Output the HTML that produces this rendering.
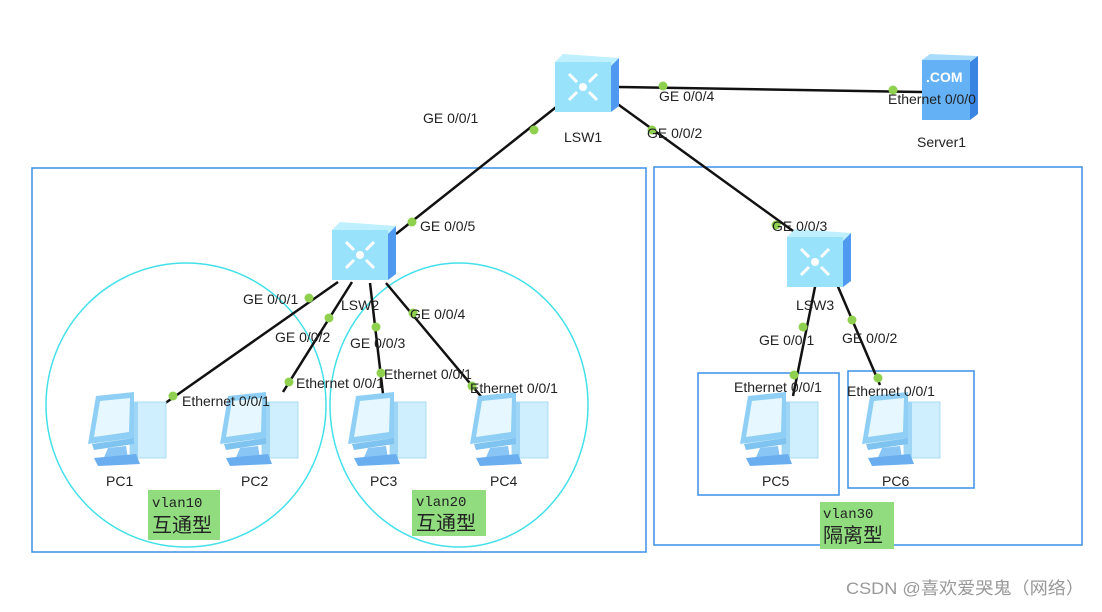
<!DOCTYPE html>
<html><head><meta charset="utf-8"><style>
html,body{margin:0;padding:0;background:#fff;}
svg text{font-family:"Liberation Sans","Noto Sans CJK SC",sans-serif;font-size:14px;fill:#222;}
.m{font-family:"Liberation Mono","Noto Sans CJK SC",monospace;}
</style></head><body>
<svg width="1102" height="607" viewBox="0 0 1102 607" xmlns="http://www.w3.org/2000/svg">
<defs>
<g id="pc">
 <rect x="42" y="10" width="36" height="56" fill="#cfeefe" stroke="#a8dcf7"/>
 <rect x="42" y="10" width="8" height="56" fill="#9fd6f6"/>
 <polygon points="8,4 46,0 46,46 0,52" fill="#8fcff5"/>
 <polygon points="12,9 42,6 41,40 6,45" fill="#e6f7ff"/>
 <polygon points="4,52 46,46 46,52 6,58" fill="#7fc3f0"/>
 <polygon points="20,56 38,54 40,66 14,70" fill="#8ac6f5"/>
 <polygon points="6,66 48,62 52,72 10,74" fill="#6aaef0"/>
</g>
<g id="sw">
 <polygon points="0,8 8,0 64,4 56,12" fill="#bff0ff"/>
 <rect x="0" y="8" width="56" height="50" fill="#98e3fb"/>
 <polygon points="56,12 64,4 64,52 56,58" fill="#4f9af0"/>
 <circle cx="28" cy="33" r="4" fill="#fff"/>
 <path d="M14,20 l8,8 M42,20 l-8,8 M14,46 l8,-8 M42,46 l-8,-8" stroke="#fff" stroke-width="3"/>
</g>
</defs>
<rect x="32" y="168" width="614" height="384" fill="none" stroke="#3a8fe8" stroke-width="1.5"/>
<rect x="654" y="167" width="428" height="378" fill="none" stroke="#3a8fe8" stroke-width="1.5"/>
<rect x="698" y="373" width="141" height="122" fill="none" stroke="#3a8fe8" stroke-width="1.5"/>
<rect x="848" y="371" width="126" height="117" fill="none" stroke="#3a8fe8" stroke-width="1.5"/>
<ellipse cx="186" cy="405" rx="140" ry="142" fill="none" stroke="#44e0ea" stroke-width="1.5"/>
<ellipse cx="459" cy="405" rx="129" ry="142" fill="none" stroke="#44e0ea" stroke-width="1.5"/>
<g stroke="#111" stroke-width="2.5">
<line x1="396" y1="234" x2="560" y2="104"/>
<line x1="612" y1="100" x2="800" y2="236"/>
<line x1="618" y1="87" x2="922" y2="92"/>
<line x1="338" y1="282" x2="164" y2="404"/>
<line x1="352" y1="282" x2="283" y2="392"/>
<line x1="370" y1="283" x2="383" y2="394"/>
<line x1="386" y1="283" x2="484" y2="400"/>
<line x1="816" y1="282" x2="793" y2="396"/>
<line x1="836" y1="282" x2="880" y2="385"/>
</g>
<use href="#pc" x="88" y="392"/>
<use href="#pc" x="220" y="392"/>
<use href="#pc" x="348" y="392"/>
<use href="#pc" x="470" y="392"/>
<use href="#pc" x="740" y="392"/>
<use href="#pc" x="862" y="392"/>
<use href="#sw" x="555" y="54"/>
<use href="#sw" x="332" y="222"/>
<use href="#sw" x="787" y="229"/>
<polygon points="922,60 930,54 978,56 970,62" fill="#a7dcff"/>
<rect x="922" y="60" width="48" height="60" fill="#64b1f6"/>
<polygon points="970,62 978,56 978,114 970,120" fill="#3a84e2"/>
<text x="926" y="82" style="fill:#fff;font-weight:bold;font-size:14px">.COM</text>
<g fill="#8fd14f">
<circle cx="534" cy="130" r="4.5"/><circle cx="412" cy="222" r="4.5"/>
<circle cx="652" cy="130" r="4.5"/><circle cx="776" cy="225" r="4.5"/>
<circle cx="663" cy="86" r="4.5"/><circle cx="893" cy="90" r="4.5"/>
<circle cx="309" cy="298" r="4.5"/><circle cx="173" cy="396" r="4.5"/>
<circle cx="329" cy="318" r="4.5"/><circle cx="289" cy="382" r="4.5"/>
<circle cx="376" cy="327" r="4.5"/><circle cx="381" cy="373" r="4.5"/>
<circle cx="413" cy="313" r="4.5"/><circle cx="472" cy="386" r="4.5"/>
<circle cx="803" cy="327" r="4.5"/><circle cx="794" cy="375" r="4.5"/>
<circle cx="852" cy="320" r="4.5"/><circle cx="878" cy="378" r="4.5"/>
</g>
<text x="423" y="123">GE 0/0/1</text>
<text x="564" y="142">LSW1</text>
<text x="659" y="101">GE 0/0/4</text>
<text x="647" y="138">GE 0/0/2</text>
<text x="888" y="104">Ethernet 0/0/0</text>
<text x="917" y="147">Server1</text>
<text x="420" y="231">GE 0/0/5</text>
<text x="772" y="231">GE 0/0/3</text>
<text x="243" y="304">GE 0/0/1</text>
<text x="341" y="310">LSW2</text>
<text x="275" y="342">GE 0/0/2</text>
<text x="350" y="348">GE 0/0/3</text>
<text x="410" y="319">GE 0/0/4</text>
<text x="182" y="406">Ethernet 0/0/1</text>
<text x="296" y="388">Ethernet 0/0/1</text>
<text x="384" y="379">Ethernet 0/0/1</text>
<text x="470" y="393">Ethernet 0/0/1</text>
<text x="796" y="310">LSW3</text>
<text x="759" y="345">GE 0/0/1</text>
<text x="842" y="343">GE 0/0/2</text>
<text x="734" y="392">Ethernet 0/0/1</text>
<text x="847" y="396">Ethernet 0/0/1</text>
<text x="106" y="486">PC1</text>
<text x="241" y="486">PC2</text>
<text x="370" y="486">PC3</text>
<text x="490" y="486">PC4</text>
<text x="762" y="486">PC5</text>
<text x="882" y="486">PC6</text>
<rect x="148" y="490" width="72" height="50" fill="#90dc7f"/>
<text class="m" x="152" y="507" style="font-size:14px">vlan10</text>
<text x="152" y="532" style="font-size:20px">互通型</text>
<rect x="412" y="490" width="74" height="46" fill="#90dc7f"/>
<text class="m" x="416" y="506" style="font-size:14px">vlan20</text>
<text x="416" y="530" style="font-size:20px">互通型</text>
<rect x="820" y="502" width="74" height="47" fill="#90dc7f"/>
<text class="m" x="823" y="518" style="font-size:14px">vlan30</text>
<text x="823" y="542" style="font-size:20px">隔离型</text>
<text x="846" y="594" textLength="238" lengthAdjust="spacingAndGlyphs" style="fill:#999;font-size:17px">CSDN @喜欢爱哭鬼（网络）</text>
</svg>
</body></html>
